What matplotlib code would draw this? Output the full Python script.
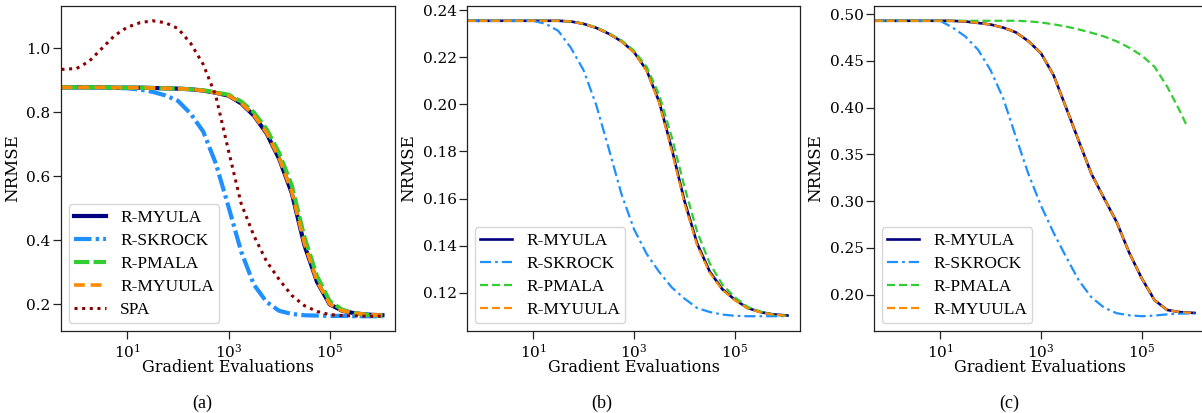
import numpy as np
import matplotlib
matplotlib.use("Agg")
import matplotlib.pyplot as plt
from matplotlib.ticker import NullLocator

plt.rcParams['font.family'] = ['DejaVu Serif']
plt.rcParams['mathtext.fontset'] = 'dejavuserif'

# gradient evaluations (shared x grid, quarter decades)
grad_evals = [0.5, 1, 1.78, 3.16, 5.62, 10, 17.8, 31.6, 56.2, 100, 178, 316, 562,
              1000, 1778, 3162, 5623, 10000, 17783, 31623, 56234, 100000,
              177828, 316228, 562341, 1100000]
grad_evals_pmala_c = grad_evals[:-1] + [794328]

# panel (a)
a_myula = [0.878, 0.878, 0.878, 0.878, 0.877, 0.877, 0.877, 0.876, 0.875, 0.874, 0.872, 0.868, 0.861,
           0.852, 0.828, 0.790, 0.735, 0.655, 0.548, 0.385, 0.270, 0.200, 0.180, 0.172, 0.168, 0.166]
a_skrock = [0.878, 0.878, 0.878, 0.877, 0.876, 0.875, 0.871, 0.864, 0.853, 0.836, 0.796, 0.740, 0.640,
            0.505, 0.365, 0.262, 0.208, 0.180, 0.170, 0.166, 0.165, 0.164, 0.164, 0.163, 0.163, 0.163]
a_pmala = [0.878, 0.878, 0.878, 0.878, 0.877, 0.877, 0.877, 0.876, 0.875, 0.874, 0.872, 0.869, 0.862,
           0.855, 0.834, 0.800, 0.748, 0.673, 0.572, 0.410, 0.288, 0.210, 0.183, 0.172, 0.167, 0.165]
a_myuula = [0.878, 0.878, 0.878, 0.878, 0.877, 0.877, 0.877, 0.876, 0.875, 0.874, 0.872, 0.868, 0.861,
            0.852, 0.829, 0.791, 0.737, 0.657, 0.552, 0.390, 0.272, 0.201, 0.180, 0.172, 0.168, 0.166]
a_spa = [0.934, 0.937, 0.960, 1.000, 1.040, 1.066, 1.080, 1.086, 1.080, 1.062, 1.016, 0.950, 0.851,
         0.680, 0.515, 0.415, 0.335, 0.278, 0.228, 0.196, 0.178, 0.168, 0.165, 0.164, 0.163, 0.163]

# panel (b)
b_myula = [0.2355, 0.2355, 0.2355, 0.2355, 0.2355, 0.2355, 0.2355, 0.2355, 0.2352, 0.2342, 0.2325, 0.2300, 0.2268,
           0.2222, 0.2145, 0.2010, 0.1810, 0.1590, 0.1410, 0.1290, 0.1215, 0.1170, 0.1135, 0.1118, 0.1108, 0.1103]
b_skrock = [0.2355, 0.2355, 0.2355, 0.2355, 0.2355, 0.2355, 0.2342, 0.2312, 0.2240, 0.2145, 0.1998, 0.1812, 0.1620,
            0.1470, 0.1365, 0.1288, 0.1222, 0.1175, 0.1135, 0.1118, 0.1107, 0.1102, 0.1100, 0.1100, 0.1100, 0.1100]
b_pmala = [0.2355, 0.2355, 0.2355, 0.2355, 0.2355, 0.2355, 0.2355, 0.2355, 0.2352, 0.2343, 0.2327, 0.2303, 0.2272,
           0.2228, 0.2160, 0.2040, 0.1860, 0.1650, 0.1460, 0.1325, 0.1235, 0.1180, 0.1140, 0.1120, 0.1107, 0.1101]
b_myuula = [0.2355, 0.2355, 0.2355, 0.2355, 0.2355, 0.2355, 0.2355, 0.2355, 0.2352, 0.2342, 0.2325, 0.2300, 0.2267,
            0.2220, 0.2142, 0.2005, 0.1800, 0.1580, 0.1402, 0.1285, 0.1212, 0.1168, 0.1134, 0.1117, 0.1107, 0.1102]

# panel (c)
c_myula = [0.4928, 0.4928, 0.4928, 0.4928, 0.4928, 0.4928, 0.4927, 0.4920, 0.4905, 0.4888, 0.4855, 0.4805, 0.4710,
           0.4580, 0.4345, 0.3995, 0.3640, 0.3290, 0.3030, 0.2775, 0.2445, 0.2170, 0.1940, 0.1835, 0.1812, 0.1803]
c_skrock = [0.4928, 0.4928, 0.4928, 0.4928, 0.4928, 0.4928, 0.4855, 0.4760, 0.4620, 0.4400, 0.4100, 0.3690, 0.3290,
            0.2950, 0.2660, 0.2400, 0.2150, 0.1970, 0.1860, 0.1800, 0.1778, 0.1768, 0.1775, 0.1788, 0.1795, 0.1800]
c_pmala = [0.4928, 0.4928, 0.4928, 0.4928, 0.4928, 0.4928, 0.4928, 0.4928, 0.4928, 0.4928, 0.4928, 0.4928, 0.4922,
           0.4910, 0.4890, 0.4866, 0.4835, 0.4800, 0.4760, 0.4708, 0.4640, 0.4555, 0.4436, 0.4225, 0.3965, 0.3794]
c_myuula = [0.4928, 0.4928, 0.4928, 0.4928, 0.4928, 0.4928, 0.4927, 0.4920, 0.4905, 0.4888, 0.4855, 0.4805, 0.4710,
            0.4580, 0.4345, 0.3995, 0.3640, 0.3290, 0.3030, 0.2775, 0.2445, 0.2170, 0.1940, 0.1835, 0.1812, 0.1803]

yticks_a = [0.2, 0.4, 0.6, 0.8, 1.0]
yticks_b = [0.12, 0.14, 0.16, 0.18, 0.20, 0.22, 0.24]
yticks_c = [0.20, 0.25, 0.30, 0.35, 0.40, 0.45, 0.50]

navy = '#000080'
blue = '#1e90ff'
green = '#32cd32'
orange = '#ff8c00'
darkred = '#8b0000'

W, H = 1202, 413
fig = plt.figure(figsize=(W / 100, H / 100), dpi=100)
ax_a = fig.add_axes([61 / W, 82 / H, 334 / W, 325 / H])
ax_b = fig.add_axes([467 / W, 82 / H, 333 / W, 325 / H])
ax_c = fig.add_axes([874 / W, 82 / H, 333 / W, 325 / H])

# panel (a): thicker lines
lw = 3.0
ax_a.plot(grad_evals, a_myula, color=navy, lw=lw, label='R-MYULA')
ax_a.plot(grad_evals, a_skrock, color=blue, lw=lw, linestyle=(0, (4.2, 1.0, 0.8, 1.0)), label='R-SKROCK')
ax_a.plot(grad_evals, a_pmala, color=green, lw=lw, linestyle=(0, (3.7, 1.0)), label='R-PMALA')
ax_a.plot(grad_evals, a_myuula, color=orange, lw=2.6, linestyle=(0, (3.0, 1.6)), label='R-MYUULA')
ax_a.plot(grad_evals, a_spa, color=darkred, lw=2.2, linestyle=(0, (1, 1.5)), label='SPA')

lw = 1.6
for ax, my, sk, pm, myu, px in [(ax_b, b_myula, b_skrock, b_pmala, b_myuula, grad_evals),
                                (ax_c, c_myula, c_skrock, c_pmala, c_myuula, grad_evals_pmala_c)]:
    ax.plot(grad_evals, my, color=navy, lw=lw + 0.3, label='R-MYULA')
    ax.plot(grad_evals, sk, color=blue, lw=lw, linestyle=(0, (5.0, 1.8, 1.2, 1.8)), label='R-SKROCK')
    ax.plot(px, pm, color=green, lw=lw, linestyle=(0, (3.6, 1.8)), label='R-PMALA')
    ax.plot(grad_evals, myu, color=orange, lw=lw, linestyle=(0, (3.6, 1.8)), label='R-MYUULA')

for ax, yt, fmt in [(ax_a, yticks_a, '{:.1f}'), (ax_b, yticks_b, '{:.2f}'), (ax_c, yticks_c, '{:.2f}')]:
    ax.set_xscale('log')
    ax.set_xlim(10 ** -0.31, 10 ** 6.29)
    ax.set_xticks([10, 1e3, 1e5])
    ax.xaxis.set_minor_locator(NullLocator())
    ax.set_yticks(yt)
    ax.set_yticklabels([fmt.format(v) for v in yt])
    ax.tick_params(axis='both', length=6, width=0.9, labelsize=11, color='#222222')
    ax.tick_params(axis='y', pad=1.5)
    ax.tick_params(axis='x', pad=2.5)
    for s in ax.spines.values():
        s.set_color('#222222')
        s.set_linewidth(0.9)
    ax.set_xlabel('Gradient Evaluations', fontsize=11.5, labelpad=-1)
    ax.set_ylabel('NRMSE', fontsize=12, labelpad=4)
    ax.legend(loc='lower left', prop={'family': 'Liberation Serif', 'size': 12.5},
              handlelength=1.85, labelspacing=0.4, borderaxespad=0.45, handletextpad=0.8,
              borderpad=0.3)

for x, t in [(202, '(a)'), (602, '(b)'), (1009, '(c)')]:
    fig.text(x / W, 1 - 403 / H, t, ha='center', va='center', family='Liberation Serif', fontsize=13)

fig.savefig('out.png', dpi=100)
